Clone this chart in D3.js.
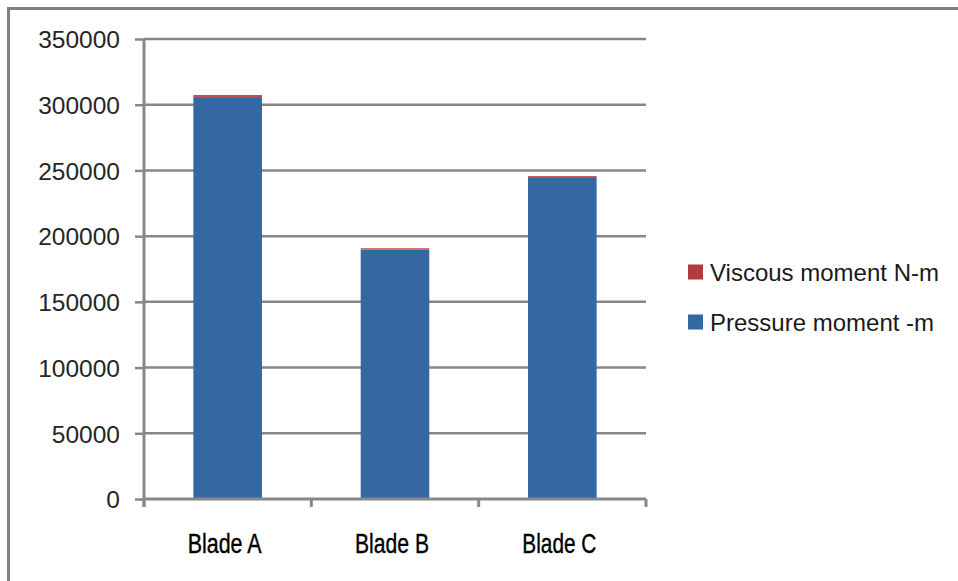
<!DOCTYPE html>
<html>
<head>
<meta charset="utf-8">
<script src="https://cdn.jsdelivr.net/npm/d3@7"></script>
<style>
  html, body { margin: 0; padding: 0; background: #fff; }
  svg { display: block; }
</style>
</head>
<body>
<svg id="chart" width="958" height="581"></svg>
<script>
// Moment data per blade design
const categories = ["Blade A", "Blade B", "Blade C"];
const pressureMoment = [305800, 189800, 244900];
const viscousMoment = [1600, 1000, 800];
const seriesNames = ["Viscous moment N-m", "Pressure moment -m"];
const yTicks = [0, 50000, 100000, 150000, 200000, 250000, 300000, 350000];

const colors = { pressure: "#3567A2", viscous: "#C0504D" };
const legendColors = { pressure: "#3567A2", viscous: "#B23B3B" };
const gridColor = "#878787";

const svg = d3.select("#chart");

// outer chart frame
svg.append("path")
  .attr("d", "M8.5,581 V8.5 H958")
  .attr("fill", "none")
  .attr("stroke", "#7f7f7f")
  .attr("stroke-width", 3);

const plot = { left: 144, right: 646, top: 39, bottom: 499 };

const x = d3.scaleBand()
  .domain(categories)
  .range([plot.left, plot.right])
  .padding(0);

const y = d3.scaleLinear()
  .domain([0, 350000])
  .range([plot.bottom, plot.top]);

// horizontal gridlines
svg.append("g")
  .selectAll("line")
  .data(yTicks.filter(d => d > 0))
  .join("line")
  .attr("x1", plot.left)
  .attr("x2", plot.right)
  .attr("y1", d => y(d))
  .attr("y2", d => y(d))
  .attr("stroke", gridColor)
  .attr("stroke-width", 2.5);

// stacked bars
const stackData = categories.map((c, i) => ({
  cat: c, pressure: pressureMoment[i], viscous: viscousMoment[i]
}));
const stack = d3.stack().keys(["pressure", "viscous"])(stackData);
const barW = x.bandwidth() * 0.41;

svg.append("g")
  .selectAll("g")
  .data(stack)
  .join("g")
  .attr("fill", d => colors[d.key])
  .selectAll("rect")
  .data(d => d)
  .join("rect")
  .attr("x", d => x(d.data.cat) + (x.bandwidth() - barW) / 2)
  .attr("width", barW)
  .attr("y", d => y(d[1]))
  .attr("height", d => y(d[0]) - y(d[1]));

// y axis
const yAxis = d3.axisLeft(y)
  .tickValues(yTicks)
  .tickFormat(d => String(d))
  .tickSize(9)
  .tickPadding(15);

const gy = svg.append("g")
  .attr("transform", `translate(${plot.left},0)`)
  .call(yAxis);
gy.select(".domain")
  .attr("d", `M0,${plot.top} V${plot.bottom + 8}`)
  .attr("stroke", gridColor)
  .attr("stroke-width", 3);
gy.selectAll(".tick line").attr("stroke", gridColor).attr("stroke-width", 2.5);
gy.selectAll(".tick text")
  .attr("fill", "#262626")
  .attr("dy", "0.36em")
  .style("font-family", "'Liberation Sans', Arial, sans-serif")
  .style("font-size", "24.5px");

// x axis
const xAxis = d3.axisBottom(x).tickSize(0).tickPadding(0).tickFormat("");
const gx = svg.append("g")
  .attr("transform", `translate(0,${plot.bottom})`)
  .call(xAxis);
gx.select(".domain")
  .attr("d", `M${plot.left},0 H${plot.right}`)
  .attr("stroke", gridColor)
  .attr("stroke-width", 3);
gx.selectAll(".tick").remove();

// category boundary tick marks
const boundaries = categories.map(c => x(c)).concat([x(categories[categories.length - 1]) + x.bandwidth()]);
gx.selectAll("line.bound")
  .data(boundaries)
  .join("line")
  .attr("class", "bound")
  .attr("x1", d => d).attr("x2", d => d)
  .attr("y1", 0).attr("y2", 8)
  .attr("stroke", gridColor)
  .attr("stroke-width", 3);

// category labels (condensed)
gx.selectAll("text.cat")
  .data(categories)
  .join("text")
  .attr("class", "cat")
  .attr("x", d => x(d) + x.bandwidth() / 2 - 3)
  .attr("y", 54)
  .attr("text-anchor", "middle")
  .attr("textLength", 74)
  .attr("lengthAdjust", "spacingAndGlyphs")
  .attr("fill", "#000")
  .attr("stroke", "#000")
  .attr("stroke-width", 0.4)
  .style("font-family", "'Liberation Sans', Arial, sans-serif")
  .style("font-size", "27.5px")
  .text(d => d);

// legend
const legend = svg.append("g").attr("transform", "translate(688,0)");
const legendItems = [
  { name: seriesNames[0], color: legendColors.viscous, y: 272 },
  { name: seriesNames[1], color: legendColors.pressure, y: 322 }
];
const li = legend.selectAll("g")
  .data(legendItems)
  .join("g")
  .attr("transform", d => `translate(0,${d.y})`);
li.append("rect")
  .attr("x", 0).attr("y", -7.5)
  .attr("width", 15).attr("height", 15)
  .attr("fill", d => d.color);
li.append("text")
  .attr("x", 22)
  .attr("y", 8.5)
  .attr("fill", "#1a1a1a")
  .style("font-family", "'Liberation Sans', Arial, sans-serif")
  .style("font-size", "24px")
  .text(d => d.name);
</script>
</body>
</html>
